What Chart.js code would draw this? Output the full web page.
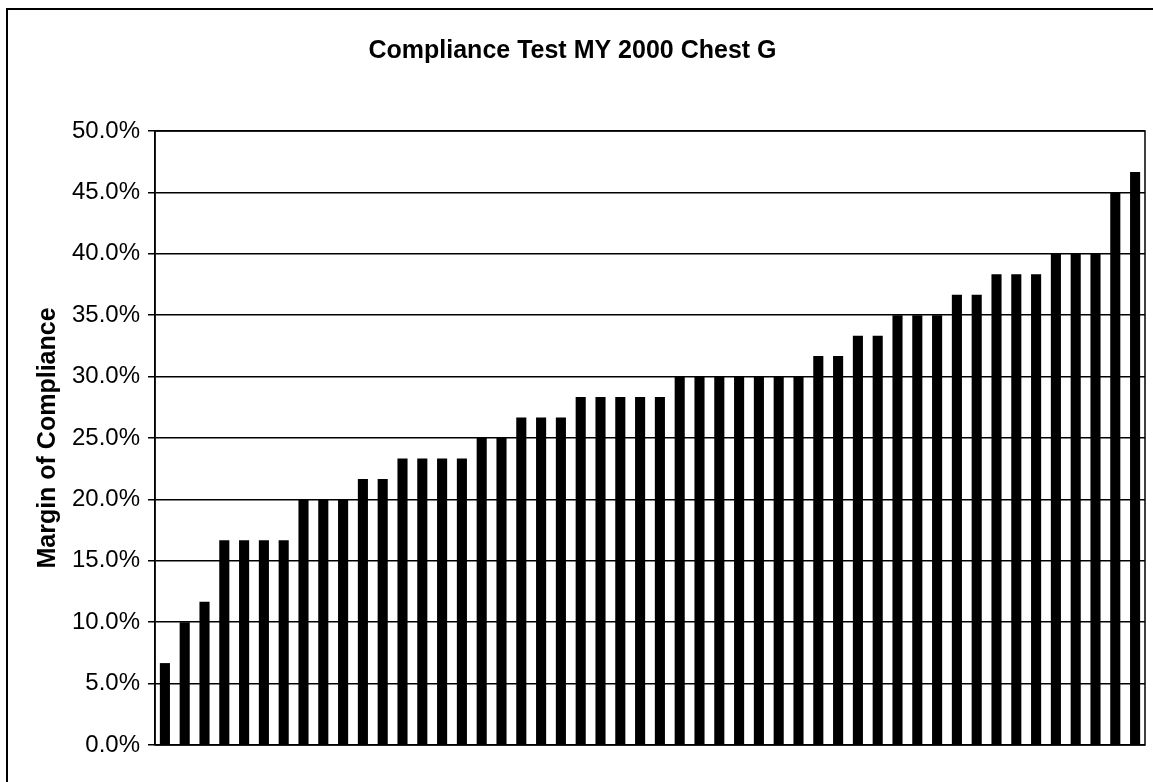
<!DOCTYPE html>
<html>
<head>
<meta charset="utf-8">
<title>Compliance Test MY 2000 Chest G</title>
<script src="https://cdn.jsdelivr.net/npm/chart.js@4.4.1/dist/chart.umd.min.js"></script>
<style>
  html, body { margin: 0; padding: 0; background: #fff; }
  #wrap { width: 1153px; height: 782px; position: relative; }
</style>
</head>
<body>
<div id="wrap"><canvas id="chart"></canvas></div>
<script>
// margin of compliance per test, sorted ascending (percent)
const tests = Array.from({ length: 50 }, (_, i) => "Test " + (i + 1));
const margins = [
  6.67, 10.0, 11.67,
  16.67, 16.67, 16.67, 16.67,
  20.0, 20.0, 20.0,
  21.67, 21.67,
  23.33, 23.33, 23.33, 23.33,
  25.0, 25.0,
  26.67, 26.67, 26.67,
  28.33, 28.33, 28.33, 28.33, 28.33,
  30.0, 30.0, 30.0, 30.0, 30.0, 30.0, 30.0,
  31.67, 31.67,
  33.33, 33.33,
  35.0, 35.0, 35.0,
  36.67, 36.67,
  38.33, 38.33, 38.33,
  40.0, 40.0, 40.0,
  45.0, 46.67
];
const yTicks = { min: 0, max: 50, step: 5 };

const FONT = "'Liberation Sans', Arial, Helvetica, sans-serif";

// outer frame and the box round the plot area
const framePlugin = {
  id: "frame",
  afterDraw(chart) {
    const ctx = chart.ctx;
    const a = chart.chartArea;
    ctx.save();
    ctx.strokeStyle = "#000";
    ctx.lineWidth = 2;
    ctx.strokeRect(7, 9, 1200, 1200);
    ctx.lineWidth = 1.5;
    ctx.strokeRect(a.left, a.top, a.right - a.left, a.bottom - a.top);
    ctx.restore();
  },
};

const ctx = document.getElementById("chart").getContext("2d");
new Chart(ctx, {
  type: "bar",
  data: {
    labels: tests,
    datasets: [
      {
        data: margins,
        backgroundColor: "#000",
        borderWidth: 0,
        barPercentage: 0.51,
        categoryPercentage: 1.0,
      },
    ],
  },
  options: {
    responsive: true,
    maintainAspectRatio: false,
    animation: false,
    layout: {
      padding: { left: 0, right: 8, top: 36, bottom: 37 },
    },
    scales: {
      x: {
        display: false,
      },
      y: {
        min: yTicks.min,
        max: yTicks.max,
        afterFit: (scale) => {
          scale.width = 155;
        },
        border: { display: true, color: "#000", width: 1.5 },
        grid: {
          color: "#000",
          lineWidth: 1.5,
          tickLength: 7,
          drawTicks: true,
        },
        ticks: {
          stepSize: yTicks.step,
          padding: 8,
          color: "#000",
          font: { family: FONT, size: 24 },
          callback: (v) => v.toFixed(1) + "%",
        },
        title: {
          display: true,
          text: "Margin of Compliance",
          color: "#000",
          font: { family: FONT, size: 25, weight: "bold" },
          padding: { top: 33, bottom: 0 },
        },
      },
    },
    plugins: {
      legend: { display: false },
      tooltip: { enabled: false },
      title: {
        display: true,
        text: "Compliance Test MY 2000 Chest G",
        color: "#000",
        font: { family: FONT, size: 25, weight: "bold" },
        padding: { top: 0, bottom: 65 },
      },
    },
  },
  plugins: [framePlugin],
});
</script>
</body>
</html>
